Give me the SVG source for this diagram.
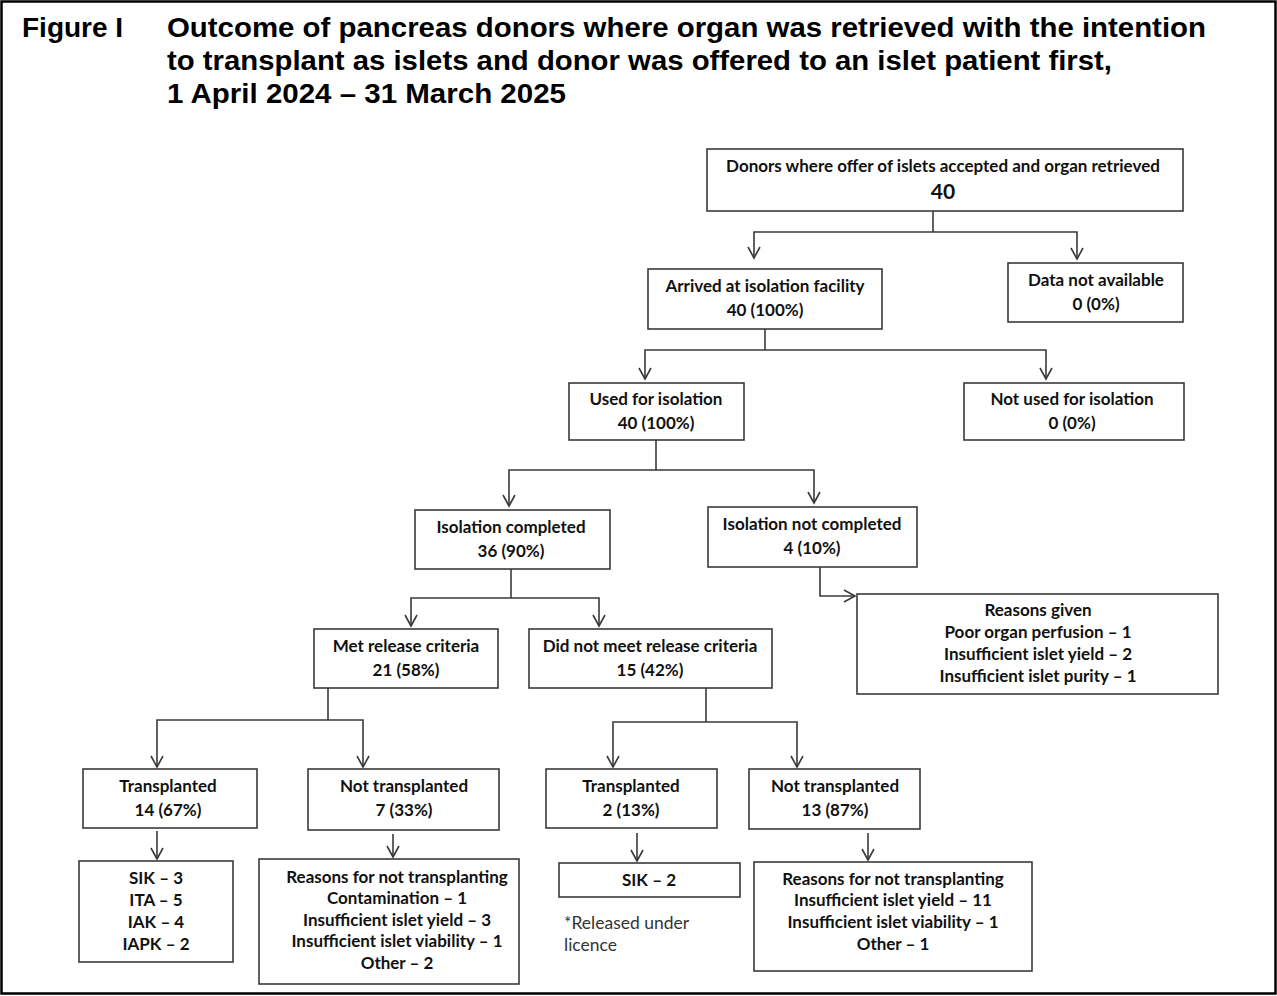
<svg xmlns="http://www.w3.org/2000/svg" width="1277" height="996" viewBox="0 0 1277 996">
<style>
.frame{fill:#fff;stroke:#000;stroke-width:2.5}
.title{font-family:"Liberation Sans",Arial,sans-serif;font-weight:bold;font-size:28px;fill:#000}
.box{fill:#fff;stroke:#3a3a3a;stroke-width:1.6}
.t{font-family:Lato,"Liberation Sans",sans-serif;font-weight:bold;font-size:17px;fill:#111;text-anchor:middle}
.big{font-size:21px}
.note{font-family:Lato,"Liberation Sans",sans-serif;font-size:17.5px;fill:#333}
.conn path{fill:none;stroke:#3a3a3a;stroke-width:1.6}
</style>
<defs>
<marker id="arr" markerUnits="userSpaceOnUse" markerWidth="14" markerHeight="14" viewBox="0 0 14 14" refX="12" refY="7" orient="auto">
<path d="M1,1 L12,7 L1,13" fill="none" stroke="#3a3a3a" stroke-width="1.6"/>
</marker>
</defs>
<rect class="frame" x="1.5" y="1.5" width="1274" height="992"/>
<g id="title">
<text class="title" x="22" y="37">Figure I</text>
<text class="title" x="167" y="37" textLength="1039" lengthAdjust="spacingAndGlyphs">Outcome of pancreas donors where organ was retrieved with the intention</text>
<text class="title" x="167" y="70" textLength="945" lengthAdjust="spacingAndGlyphs">to transplant as islets and donor was offered to an islet patient first,</text>
<text class="title" x="167" y="103" textLength="399" lengthAdjust="spacingAndGlyphs">1 April 2024 – 31 March 2025</text>
</g>
<g id="connectors" class="conn">
<path d="M933,211 V232"/>
<path d="M933,232 H754 V258" marker-end="url(#arr)"/>
<path d="M933,232 H1077 V259" marker-end="url(#arr)"/>
<path d="M765,329 V350"/>
<path d="M765,350 H645 V379" marker-end="url(#arr)"/>
<path d="M765,350 H1046 V379" marker-end="url(#arr)"/>
<path d="M656,440 V470"/>
<path d="M656,470 H509 V506" marker-end="url(#arr)"/>
<path d="M656,470 H814 V503" marker-end="url(#arr)"/>
<path d="M820,567 V596 H855" marker-end="url(#arr)"/>
<path d="M511,569 V598"/>
<path d="M511,598 H411 V626" marker-end="url(#arr)"/>
<path d="M511,598 H599 V626" marker-end="url(#arr)"/>
<path d="M328,688 V720"/>
<path d="M328,720 H157 V767" marker-end="url(#arr)"/>
<path d="M328,720 H363 V767" marker-end="url(#arr)"/>
<path d="M706,688 V722"/>
<path d="M706,722 H613 V767" marker-end="url(#arr)"/>
<path d="M706,722 H797 V767" marker-end="url(#arr)"/>
<path d="M157,831 V859" marker-end="url(#arr)"/>
<path d="M393,834 V857" marker-end="url(#arr)"/>
<path d="M637,833 V861" marker-end="url(#arr)"/>
<path d="M868,833 V860" marker-end="url(#arr)"/>
</g>
<g id="n-donors">
<rect class="box" x="707" y="149" width="476" height="62"/>
<text class="t" x="943" y="172">Donors where offer of islets accepted and organ retrieved</text>
<text class="t big" x="943" y="199">40</text>
</g>
<g id="n-arrived">
<rect class="box" x="648" y="269" width="234" height="60"/>
<text class="t" x="765" y="292">Arrived at isolation facility</text>
<text class="t" x="765" y="316">40 (100%)</text>
</g>
<g id="n-nodata">
<rect class="box" x="1008" y="263" width="175" height="59"/>
<text class="t" x="1096" y="286">Data not available</text>
<text class="t" x="1096" y="310">0 (0%)</text>
</g>
<g id="n-used">
<rect class="box" x="569" y="383" width="175" height="57"/>
<text class="t" x="656" y="405">Used for isolation</text>
<text class="t" x="656" y="429">40 (100%)</text>
</g>
<g id="n-notused">
<rect class="box" x="964" y="383" width="220" height="57"/>
<text class="t" x="1072" y="405">Not used for isolation</text>
<text class="t" x="1072" y="429">0 (0%)</text>
</g>
<g id="n-completed">
<rect class="box" x="415" y="510" width="195" height="59"/>
<text class="t" x="511" y="533">Isolation completed</text>
<text class="t" x="511" y="557">36 (90%)</text>
</g>
<g id="n-notcompleted">
<rect class="box" x="708" y="507" width="209" height="60"/>
<text class="t" x="812" y="530">Isolation not completed</text>
<text class="t" x="812" y="554">4 (10%)</text>
</g>
<g id="n-reasons-given">
<rect class="box" x="857" y="594" width="361" height="100"/>
<text class="t" x="1038" y="616">Reasons given</text>
<text class="t" x="1038" y="638">Poor organ perfusion – 1</text>
<text class="t" x="1038" y="660">Insufficient islet yield – 2</text>
<text class="t" x="1038" y="682">Insufficient islet purity – 1</text>
</g>
<g id="n-met">
<rect class="box" x="314" y="629" width="184" height="59"/>
<text class="t" x="406" y="652">Met release criteria</text>
<text class="t" x="406" y="676">21 (58%)</text>
</g>
<g id="n-notmet">
<rect class="box" x="529" y="629" width="243" height="59"/>
<text class="t" x="650" y="652">Did not meet release criteria</text>
<text class="t" x="650" y="676">15 (42%)</text>
</g>
<g id="n-tx1">
<rect class="box" x="83" y="769" width="174" height="59"/>
<text class="t" x="168" y="792">Transplanted</text>
<text class="t" x="168" y="816">14 (67%)</text>
</g>
<g id="n-nottx1">
<rect class="box" x="308" y="769" width="191" height="61"/>
<text class="t" x="404" y="792">Not transplanted</text>
<text class="t" x="404" y="816">7 (33%)</text>
</g>
<g id="n-tx1-types">
<rect class="box" x="79" y="861" width="154" height="101"/>
<text class="t" x="156" y="884">SIK – 3</text>
<text class="t" x="156" y="906">ITA – 5</text>
<text class="t" x="156" y="928">IAK – 4</text>
<text class="t" x="156" y="950">IAPK – 2</text>
</g>
<g id="n-nottx1-reasons">
<rect class="box" x="259" y="859" width="260" height="125"/>
<text class="t" x="397" y="883">Reasons for not transplanting</text>
<text class="t" x="397" y="904">Contamination – 1</text>
<text class="t" x="397" y="926">Insufficient islet yield – 3</text>
<text class="t" x="397" y="947">Insufficient islet viability – 1</text>
<text class="t" x="397" y="969">Other – 2</text>
</g>
<g id="n-tx2">
<rect class="box" x="546" y="769" width="171" height="59"/>
<text class="t" x="631" y="792">Transplanted</text>
<text class="t" x="631" y="816">2 (13%)</text>
</g>
<g id="n-nottx2">
<rect class="box" x="749" y="769" width="171" height="60"/>
<text class="t" x="835" y="792">Not transplanted</text>
<text class="t" x="835" y="816">13 (87%)</text>
</g>
<g id="n-tx2-types">
<rect class="box" x="559" y="863" width="181" height="34"/>
<text class="t" x="649" y="886">SIK – 2</text>
</g>
<g id="footnote">
<text class="note" x="564" y="929">*Released under</text>
<text class="note" x="564" y="951">licence</text>
</g>
<g id="n-nottx2-reasons">
<rect class="box" x="754" y="862" width="278" height="109"/>
<text class="t" x="893" y="885">Reasons for not transplanting</text>
<text class="t" x="893" y="906">Insufficient islet yield – 11</text>
<text class="t" x="893" y="928">Insufficient islet viability – 1</text>
<text class="t" x="893" y="950">Other – 1</text>
</g>
</svg>
